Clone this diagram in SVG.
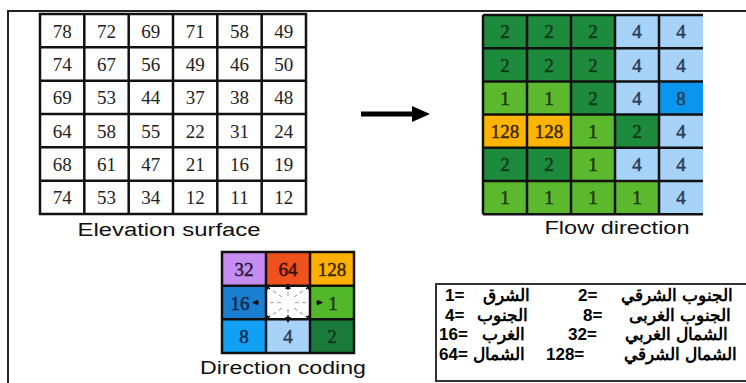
<svg xmlns="http://www.w3.org/2000/svg" width="746" height="383" viewBox="0 0 746 383">
<style>
.cell{stroke:#111;stroke-width:2.5}
.num{font-family:"Liberation Serif",serif;font-size:19px;text-anchor:middle;fill:#222}
.fnum{font-family:"Liberation Serif",serif;font-size:19px;text-anchor:middle;stroke-width:0.5}
.cap{font-family:"Liberation Sans",Arial,sans-serif;font-size:18px;text-anchor:middle;fill:#111}
.leg{font-family:"Liberation Sans",Arial,sans-serif;font-size:17px;font-weight:bold;fill:#000}
.dg{fill:#1d8a3c}.lg{fill:#5cb82c}.lb{fill:#a6d3f7}.bl{fill:#0a96ee}.or{fill:#ffb400}
.tdg{fill:#0f3b1c;stroke:#0f3b1c}.tlg{fill:#1e3a12;stroke:#1e3a12}.tlb{fill:#2d3b58;stroke:#2d3b58}.tor{fill:#3a2a00;stroke:#3a2a00}
.dash{stroke:#bbb;stroke-width:1.5;stroke-dasharray:4 3}
</style>
<defs>
<marker id="ah" viewBox="0 0 6 6" refX="5" refY="3" markerWidth="4" markerHeight="4" orient="auto"><path d="M0,0 L6,3 L0,6 z" fill="#111"/></marker>
</defs>
<rect width="746" height="383" fill="#fff"/>
<g id="frame" fill="none" stroke="#222" stroke-width="2">
<path d="M8,383 V11 H746"/>
</g>
<g id="elevation">
<rect x="40" y="14" width="266" height="200" fill="#fff" class="cell"/>
<g stroke="#111" stroke-width="2.5">
<path d="M84.3,14V214M128.7,14V214M173,14V214M217.3,14V214M261.7,14V214"/>
<path d="M40,47.3H306M40,80.7H306M40,114H306M40,147.3H306M40,180.7H306"/>
</g>
<g class="num">
<text x="62.2" y="37.5">78</text><text x="106.5" y="37.5">72</text><text x="150.8" y="37.5">69</text><text x="195.2" y="37.5">71</text><text x="239.5" y="37.5">58</text><text x="283.8" y="37.5">49</text>
<text x="62.2" y="70.8">74</text><text x="106.5" y="70.8">67</text><text x="150.8" y="70.8">56</text><text x="195.2" y="70.8">49</text><text x="239.5" y="70.8">46</text><text x="283.8" y="70.8">50</text>
<text x="62.2" y="104.1">69</text><text x="106.5" y="104.1">53</text><text x="150.8" y="104.1">44</text><text x="195.2" y="104.1">37</text><text x="239.5" y="104.1">38</text><text x="283.8" y="104.1">48</text>
<text x="62.2" y="137.5">64</text><text x="106.5" y="137.5">58</text><text x="150.8" y="137.5">55</text><text x="195.2" y="137.5">22</text><text x="239.5" y="137.5">31</text><text x="283.8" y="137.5">24</text>
<text x="62.2" y="170.8">68</text><text x="106.5" y="170.8">61</text><text x="150.8" y="170.8">47</text><text x="195.2" y="170.8">21</text><text x="239.5" y="170.8">16</text><text x="283.8" y="170.8">19</text>
<text x="62.2" y="204.1">74</text><text x="106.5" y="204.1">53</text><text x="150.8" y="204.1">34</text><text x="195.2" y="204.1">12</text><text x="239.5" y="204.1">11</text><text x="283.8" y="204.1">12</text>
</g>
<text class="cap" x="169" y="236" textLength="183" lengthAdjust="spacingAndGlyphs">Elevation surface</text>
</g>
<g id="connectors">
<path d="M361,114 H415" stroke="#000" stroke-width="5"/>
<path d="M412,106 L430,114 L412,122 z" fill="#000"/>
</g>
<g id="flow">
<rect x="483" y="15" width="44" height="33.2" class="dg"/><rect x="527" y="15" width="44" height="33.2" class="dg"/><rect x="571" y="15" width="44" height="33.2" class="dg"/><rect x="615" y="15" width="44" height="33.2" class="lb"/><rect x="659" y="15" width="44" height="33.2" class="lb"/>
<rect x="483" y="48.2" width="44" height="33.2" class="dg"/><rect x="527" y="48.2" width="44" height="33.2" class="dg"/><rect x="571" y="48.2" width="44" height="33.2" class="dg"/><rect x="615" y="48.2" width="44" height="33.2" class="lb"/><rect x="659" y="48.2" width="44" height="33.2" class="lb"/>
<rect x="483" y="81.4" width="44" height="33.2" class="lg"/><rect x="527" y="81.4" width="44" height="33.2" class="lg"/><rect x="571" y="81.4" width="44" height="33.2" class="dg"/><rect x="615" y="81.4" width="44" height="33.2" class="lb"/><rect x="659" y="81.4" width="44" height="33.2" class="bl"/>
<rect x="483" y="114.6" width="44" height="33.2" class="or"/><rect x="527" y="114.6" width="44" height="33.2" class="or"/><rect x="571" y="114.6" width="44" height="33.2" class="lg"/><rect x="615" y="114.6" width="44" height="33.2" class="dg"/><rect x="659" y="114.6" width="44" height="33.2" class="lb"/>
<rect x="483" y="147.8" width="44" height="33.2" class="dg"/><rect x="527" y="147.8" width="44" height="33.2" class="dg"/><rect x="571" y="147.8" width="44" height="33.2" class="lg"/><rect x="615" y="147.8" width="44" height="33.2" class="lb"/><rect x="659" y="147.8" width="44" height="33.2" class="lb"/>
<rect x="483" y="181" width="44" height="33.2" class="lg"/><rect x="527" y="181" width="44" height="33.2" class="lg"/><rect x="571" y="181" width="44" height="33.2" class="lg"/><rect x="615" y="181" width="44" height="33.2" class="lg"/><rect x="659" y="181" width="44" height="33.2" class="lb"/>
<g stroke="#111" stroke-width="2.5" fill="none">
<path d="M483,15 H703 M483,214.2 H703 M483,15 V214.2"/>
<path d="M527,15V214.2M571,15V214.2M615,15V214.2M659,15V214.2"/>
<path d="M483,48.2H703M483,81.4H703M483,114.6H703M483,147.8H703M483,181H703"/>
</g>
<g class="fnum">
<text x="505" y="38.3" class="tdg">2</text><text x="549" y="38.3" class="tdg">2</text><text x="593" y="38.3" class="tdg">2</text><text x="637" y="38.3" class="tlb">4</text><text x="681" y="38.3" class="tlb">4</text>
<text x="505" y="71.5" class="tdg">2</text><text x="549" y="71.5" class="tdg">2</text><text x="593" y="71.5" class="tdg">2</text><text x="637" y="71.5" class="tlb">4</text><text x="681" y="71.5" class="tlb">4</text>
<text x="505" y="104.7" class="tlg">1</text><text x="549" y="104.7" class="tlg">1</text><text x="593" y="104.7" class="tdg">2</text><text x="637" y="104.7" class="tlb">4</text><text x="681" y="104.7" class="tlb">8</text>
<text x="505" y="137.9" class="tor">128</text><text x="549" y="137.9" class="tor">128</text><text x="593" y="137.9" class="tlg">1</text><text x="637" y="137.9" class="tdg">2</text><text x="681" y="137.9" class="tlb">4</text>
<text x="505" y="171.1" class="tdg">2</text><text x="549" y="171.1" class="tdg">2</text><text x="593" y="171.1" class="tlg">1</text><text x="637" y="171.1" class="tlb">4</text><text x="681" y="171.1" class="tlb">4</text>
<text x="505" y="204.3" class="tlg">1</text><text x="549" y="204.3" class="tlg">1</text><text x="593" y="204.3" class="tlg">1</text><text x="637" y="204.3" class="tlg">1</text><text x="681" y="204.3" class="tlb">4</text>
</g>
<text class="cap" x="617" y="234" textLength="145" lengthAdjust="spacingAndGlyphs">Flow direction</text>
</g>
<g id="coding">
<rect x="222" y="252" width="44" height="33.7" fill="#c58ef0"/>
<rect x="266" y="252" width="44" height="33.7" fill="#f0521e"/>
<rect x="310" y="252" width="44" height="33.7" fill="#ffb000"/>
<rect x="222" y="285.7" width="44" height="33.6" fill="#1a7fd0"/>
<rect x="266" y="285.7" width="44" height="33.6" fill="#fff"/>
<rect x="310" y="285.7" width="44" height="33.6" fill="#52b82a"/>
<rect x="222" y="319.3" width="44" height="33.7" fill="#12a0f5"/>
<rect x="266" y="319.3" width="44" height="33.7" fill="#a6d3f7"/>
<rect x="310" y="319.3" width="44" height="33.7" fill="#1a7a3a"/>
<g stroke="#111" stroke-width="2.5" fill="none">
<rect x="222" y="252" width="132" height="101"/>
<path d="M266,252V353M310,252V353M222,285.7H354M222,319.3H354"/>
</g>
<g class="dash">
<path d="M288,296 L288,290"/><path d="M288,309 L288,315"/>
<path d="M281,302.5 L270,302.5"/><path d="M295,302.5 L306,302.5"/>
<path d="M282,297 L272,290"/><path d="M294,297 L304,290"/>
<path d="M282,308 L272,315"/><path d="M294,308 L304,315"/>
</g>
<g stroke="#111" stroke-width="1.5" marker-end="url(#ah)">
<path d="M288,290 L288,284"/>
<path d="M288,315 L288,322"/>
<path d="M259,302.5 L253,302.5"/>
<path d="M316,302.5 L322,302.5"/>
<path d="M270,289 L265,285"/>
<path d="M306,289 L311,285"/>
<path d="M270,316 L265,320"/>
<path d="M306,316 L311,320"/>
</g>
<g class="fnum">
<text x="244" y="276" fill="#2a1a3a" stroke="#2a1a3a">32</text>
<text x="288" y="276" fill="#3a1005" stroke="#3a1005">64</text>
<text x="332" y="276" class="tor">128</text>
<text x="240" y="309.5" fill="#0a2a4a" stroke="#0a2a4a">16</text>
<text x="333" y="309.5" class="tlg">1</text>
<text x="244" y="343" fill="#0a2a4a" stroke="#0a2a4a">8</text>
<text x="288" y="343" class="tlb">4</text>
<text x="332" y="343" class="tdg">2</text>
</g>
<text class="cap" x="283" y="374" textLength="166" lengthAdjust="spacingAndGlyphs">Direction coding</text>
</g>
<g id="legend">
<rect x="436" y="284" width="312" height="97" fill="#fff" stroke="#333" stroke-width="2"/>
<g class="leg">
<text x="445" y="301">1=</text><text x="530" y="301" text-anchor="end">الشرق</text>
<text x="578" y="301">2=</text><text x="733" y="301" text-anchor="end">الجنوب الشرقي</text>
<text x="445" y="321">4=</text><text x="528" y="321" text-anchor="end">الجنوب</text>
<text x="583" y="321">8=</text><text x="731" y="321" text-anchor="end">الجنوب الغربى</text>
<text x="439" y="340">16=</text><text x="525" y="340" text-anchor="end">الغرب</text>
<text x="568" y="340">32=</text><text x="728" y="340" text-anchor="end">الشمال الغربي</text>
<text x="439" y="360">64=</text><text x="525" y="360" text-anchor="end">الشمال</text>
<text x="546" y="360">128=</text><text x="737" y="360" text-anchor="end">الشمال الشرقي</text>
</g>
</g>
</svg>
